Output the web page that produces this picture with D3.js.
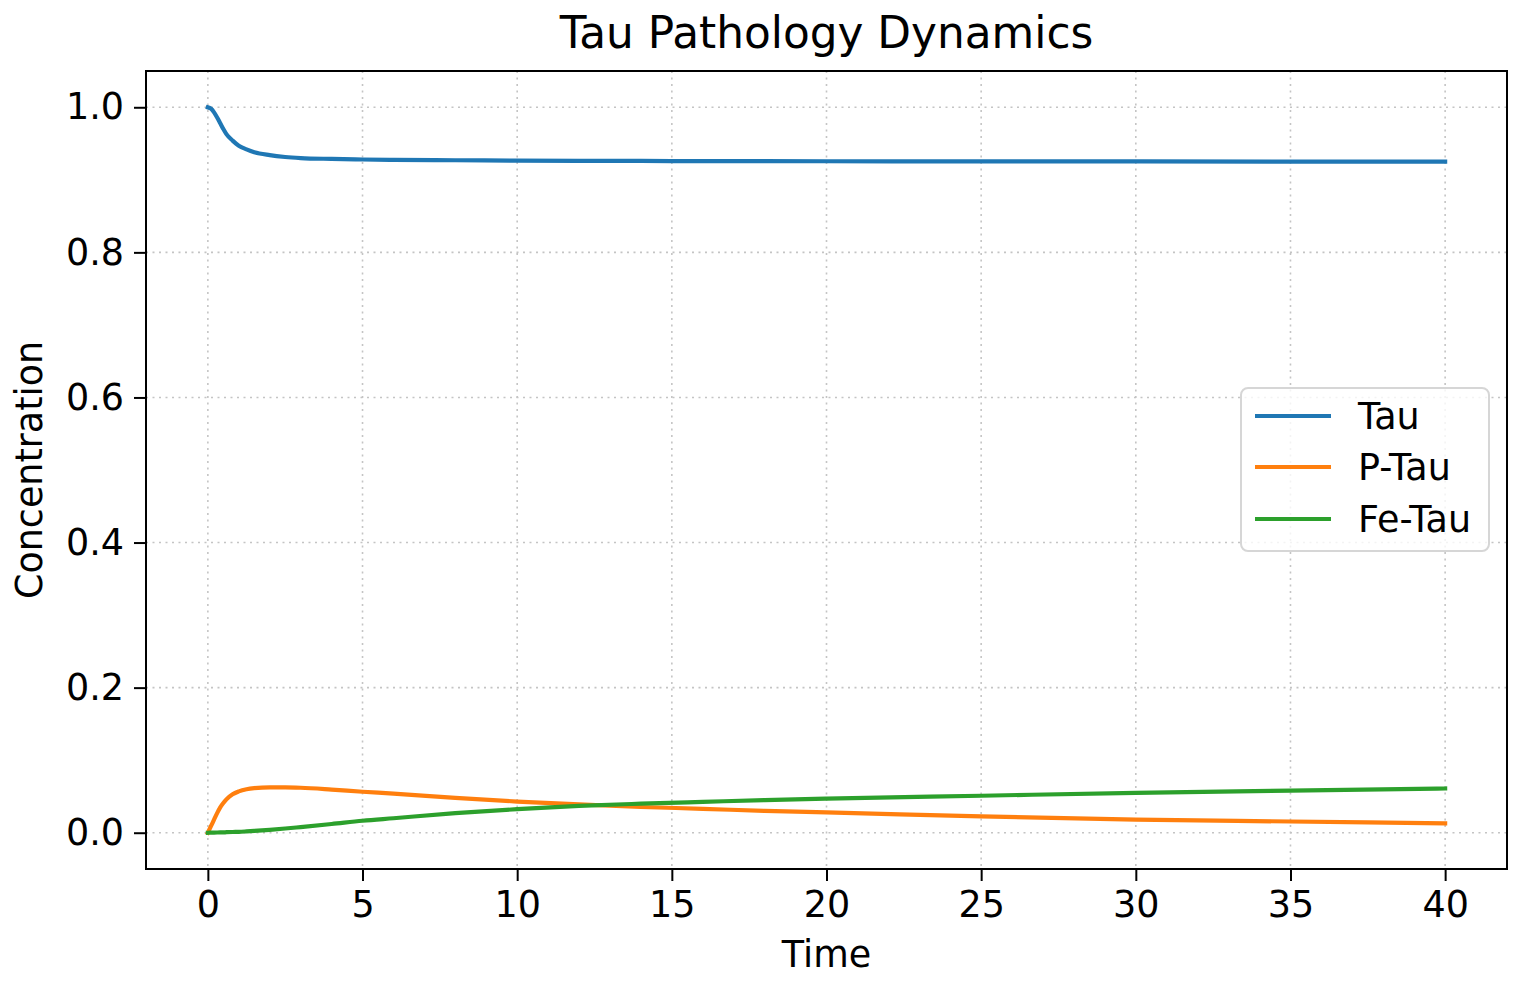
<!DOCTYPE html>
<html>
<head>
<meta charset="utf-8">
<script src="https://cdn.jsdelivr.net/npm/d3@7"></script>
<style>
  html, body { margin: 0; padding: 0; background: #fff; }
  svg { display: block; font-family: "DejaVu Sans", sans-serif; }
</style>
</head>
<body>
<svg id="chart" width="1523" height="983"></svg>
<script>
const time  = [0, 0.1, 0.2, 0.3, 0.4, 0.5, 0.6, 0.8, 1, 1.25, 1.5, 2, 2.5, 3, 4, 5, 6, 8, 10, 12, 14, 16, 18, 20, 25, 30, 35, 40];
const tau   = [1.0, 0.998, 0.993, 0.986, 0.978, 0.970, 0.963, 0.954, 0.947, 0.942, 0.938, 0.934, 0.9315, 0.930, 0.9288, 0.928, 0.9275, 0.927, 0.9265, 0.9262, 0.926, 0.9258, 0.9257, 0.9256, 0.9254, 0.9253, 0.9252, 0.925];
const ptau  = [0, 0.009, 0.018, 0.027, 0.035, 0.041, 0.046, 0.053, 0.057, 0.060, 0.0615, 0.0625, 0.0625, 0.062, 0.0595, 0.0565, 0.054, 0.048, 0.043, 0.039, 0.0355, 0.033, 0.030, 0.028, 0.0225, 0.018, 0.0155, 0.013];
const fetau = [0, 0.0001, 0.0002, 0.0003, 0.0004, 0.0005, 0.0007, 0.001, 0.0012, 0.0018, 0.0025, 0.004, 0.0058, 0.0078, 0.012, 0.0165, 0.020, 0.027, 0.0325, 0.037, 0.040, 0.0425, 0.045, 0.047, 0.051, 0.055, 0.058, 0.061];
const seriesNames = ["Tau", "P-Tau", "Fe-Tau"];
const seriesValues = [tau, ptau, fetau];
const colors = ["#1f77b4", "#ff7f0e", "#2ca02c"];
const xTicks = [0, 5, 10, 15, 20, 25, 30, 35, 40];
const yTicks = [0.0, 0.2, 0.4, 0.6, 0.8, 1.0];
const title = "Tau Pathology Dynamics";
const xLabel = "Time";
const yLabel = "Concentration";

const svg = d3.select("#chart");
const L = 146, R = 1507, T = 71, B = 869;

const x = d3.scaleLinear().domain([-2, 42]).range([L, R]);
const y = d3.scaleLinear().domain([-0.05, 1.05]).range([B, T]);

// grid
const grid = svg.append("g");
grid.selectAll(".gx").data(xTicks).enter().append("line")
  .attr("x1", d => x(d)).attr("x2", d => x(d)).attr("y1", T).attr("y2", B)
  .attr("stroke", "#c4c4c4").attr("stroke-width", 1.6).attr("stroke-dasharray", "2,4.5");
grid.selectAll(".gy").data(yTicks).enter().append("line")
  .attr("y1", d => y(d)).attr("y2", d => y(d)).attr("x1", L).attr("x2", R)
  .attr("stroke", "#c4c4c4").attr("stroke-width", 1.6).attr("stroke-dasharray", "2,4.5");

// lines
const line = d3.line().x(d => x(d[0])).y(d => y(d[1])).curve(d3.curveMonotoneX);
seriesValues.forEach((vals, i) => {
  svg.append("path")
    .datum(time.map((t, j) => [t, vals[j]]))
    .attr("fill", "none").attr("stroke", colors[i]).attr("stroke-width", 4.2)
    .attr("stroke-linecap", "square").attr("stroke-linejoin", "round")
    .attr("d", line);
});

// axes
const xAxis = d3.axisBottom(x).tickValues(xTicks).tickSize(12).tickPadding(10).tickFormat(d3.format("d"));
const yAxis = d3.axisLeft(y).tickValues(yTicks).tickSize(12).tickPadding(10).tickFormat(d3.format(".1f"));
const gx = svg.append("g").attr("transform", `translate(0,${B})`).call(xAxis);
const gy = svg.append("g").attr("transform", `translate(${L},0)`).call(yAxis);
[gx, gy].forEach(g => {
  g.select(".domain").remove();
  g.selectAll(".tick line").attr("stroke", "#000").attr("stroke-width", 2);
  g.selectAll(".tick text").attr("fill", "#000").style("font-size", "36.5px").style("font-family", "DejaVu Sans");
});

// frame
svg.append("rect").attr("x", L).attr("y", T).attr("width", R - L).attr("height", B - T)
  .attr("fill", "none").attr("stroke", "#000").attr("stroke-width", 2);

// title & labels
svg.append("text").attr("x", (L + R) / 2).attr("y", 48).attr("text-anchor", "middle")
  .style("font-size", "43.8px").attr("fill", "#000").text(title);
svg.append("text").attr("x", (L + R) / 2).attr("y", 967).attr("text-anchor", "middle")
  .style("font-size", "36.5px").attr("fill", "#000").text(xLabel);
svg.append("text").attr("transform", `translate(42,${(T + B) / 2}) rotate(-90)`).attr("text-anchor", "middle")
  .style("font-size", "36.5px").attr("fill", "#000").text(yLabel);

// legend
const lg = svg.append("g");
lg.append("rect").attr("x", 1241).attr("y", 388).attr("width", 248).attr("height", 163)
  .attr("rx", 7).attr("fill", "#fff").attr("fill-opacity", 0.8)
  .attr("stroke", "#d6d6d6").attr("stroke-width", 2);
const ly = [416, 467, 519];
seriesNames.forEach((name, i) => {
  lg.append("line").attr("x1", 1255).attr("x2", 1331).attr("y1", ly[i]).attr("y2", ly[i])
    .attr("stroke", colors[i]).attr("stroke-width", 4.2);
  lg.append("text").attr("x", 1358).attr("y", ly[i]).attr("dy", "0.36em")
    .style("font-size", "36.5px").attr("fill", "#000").text(name);
});
</script>
</body>
</html>
